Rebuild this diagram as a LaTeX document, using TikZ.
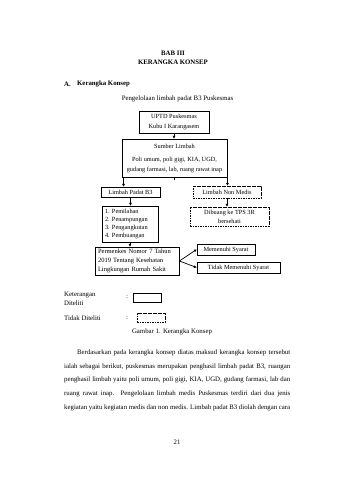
\documentclass[tikz,border=0pt]{standalone}
\usepackage{fontspec}
\setmainfont{Liberation Serif}
\usetikzlibrary{arrows.meta,calc}
\begin{document}
\begin{tikzpicture}[x=1pt,y=-1pt,
  txt/.style={inner sep=0pt,font=\fontsize{6.8}{8}\selectfont},
  btxt/.style={inner sep=0pt,font=\bfseries\fontsize{6.8}{8}\selectfont},
  bx/.style={draw,line width=0.9pt,inner sep=0pt,align=center,font=\fontsize{6.3}{9}\selectfont},
  dbx/.style={bx,dash pattern=on 1.6pt off 0.9pt},
  arr/.style={line width=0.7pt,-{Triangle[length=2.6pt,width=2.6pt]}},
  darr/.style={arr,dash pattern=on 1.2pt off 0.8pt},
]
\useasboundingbox[fill=white] (0,0) rectangle (339,480);
% headings
\node[btxt] (bab) at (173,53) {BAB III};
\node[btxt] (kk) at (173,62) {KERANGKA KONSEP};
\node[btxt,anchor=west] (a) at (64,84) {A.};
\node[btxt,anchor=west] (ak) at (77,84) {Kerangka Konsep};
\node[txt] (pl) at (177.5,99) {Pengelolaan limbah padat B3 Puskesmas};
% diagram
\node[bx,minimum width=70pt,minimum height=22pt,font=\fontsize{6.3}{10}\selectfont] (uptd) at (174,122) {UPTD Puskesmas\\Kubu I Karangasem};
\node[bx,minimum width=105pt,minimum height=38pt,font=\fontsize{6.3}{10}\selectfont] (sumber) at (174.5,158) {Sumber Limbah\\[3pt] Poli umum, poli gigi, KIA, UGD,\\ gudang farmasi, lab, ruang rawat inap};
\node[bx,minimum width=59pt,minimum height=10pt] (b3) at (130.5,192) {Limbah Padat B3};
\node[dbx,minimum width=68pt,minimum height=12pt] (nm) at (227,192) {Limbah Non Medis};
\node[dbx,minimum width=79pt,minimum height=19pt] (db) at (229.5,216.5) {Dibuang ke TPS 3R\\bersehati};
\node[bx,minimum width=56pt,minimum height=36pt,align=left,text width=50pt,inner xsep=3pt,font=\fontsize{6.3}{8.3}\selectfont] (list) at (130,224) {\makebox[7pt][l]{1.}Pemilahan\\\makebox[7pt][l]{2.}Penampungan\\\makebox[7pt][l]{3.}Pengangkutan\\\makebox[7pt][l]{4.}Pembuangan};
\node[bx,minimum width=84pt,minimum height=28pt,align=left,text width=78pt,inner xsep=3pt,font=\fontsize{6.5}{9}\selectfont] (pm) at (137,261) {Permenkes Nomor 7 Tahun\\2019 Tentang Kesehatan\\Lingkungan Rumah Sakit};
\node[bx,minimum width=58pt,minimum height=11pt] (ms) at (226,249.5) {Memenuhi Syarat};
\node[bx,minimum width=83pt,minimum height=11pt] (tms) at (238.5,267.5) {Tidak Memenuhi Syarat};
% connectors
\draw[arr] (uptd.south) -- (uptd.south |- sumber.north);
\draw[arr] ([xshift=2pt]sumber.south west) -- ([xshift=2pt]sumber.south west |- b3.north);
\draw[arr] (sumber.south east) -- (sumber.south east |- nm.north);
\draw[line width=0.7pt] (sumber.south) -- ++(0,3);
\draw[darr] (nm.south) -- (nm.south |- db.north);
\draw[arr] (b3.south) -- (b3.south |- list.north);
\draw[arr] (list.south) -- (list.south |- pm.north);
\draw[arr] (pm.east) -- (ms.west);
\draw[arr] (pm.east) -- (tms.west);
% legend
\node[txt,anchor=west] (ket) at (64,295) {Keterangan};
\node[txt,anchor=west] (dit) at (64,303) {Diteliti};
\node[txt] (c1) at (127,297) {:};
\node[bx,minimum width=28pt,minimum height=9pt] (lg1) at (147,297.5) {};
\node[txt,anchor=west] (tdit) at (64,318) {Tidak Diteliti};
\node[txt] (c2) at (127,318) {:};
\node[dbx,minimum width=28pt,minimum height=9pt] (lg2) at (151,317.5) {};
\node[txt] (gb) at (172,332) {Gambar 1. Kerangka Konsep};
% paragraph
\node[inner sep=0pt,anchor=north west,text width=226pt,align=justify,font=\fontsize{6.8}{13.7}\selectfont] (par) at (64,349.5) {\parfillskip=0pt\hspace*{13pt}Berdasarkan pada kerangka konsep diatas maksud kerangka konsep tersebut\linebreak ialah sebagai berikut, puskesmas merupakan penghasil limbah padat B3, ruangan\linebreak penghasil limbah yaitu poli umum, poli gigi, KIA, UGD, gudang farmasi, lab dan\linebreak ruang rawat inap. Pengelolaan limbah medis Puskesmas terdiri dari dua jenis\linebreak kegiatan yaitu kegiatan medis dan non medis. Limbah padat B3 diolah dengan cara\par};
\node[txt] (pg) at (177,442) {21};
\end{tikzpicture}
\end{document}
